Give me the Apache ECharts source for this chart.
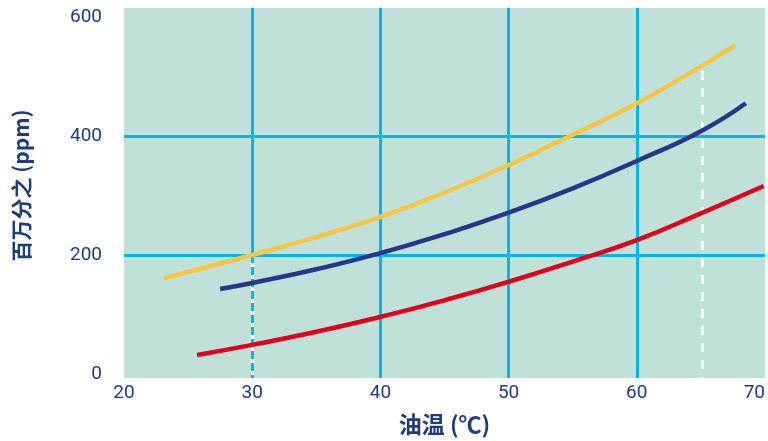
<!DOCTYPE html>
<html>
<head>
<meta charset="utf-8">
<script src="https://cdn.jsdelivr.net/npm/echarts@6/dist/echarts.min.js"></script>
<style>html,body{margin:0;padding:0;background:#fff;}#c{width:768px;height:441px;}</style>
</head>
<body>
<div id="c"></div>
<script>
// Data
const xTicks = [20, 30, 40, 50, 60, 70];
const yTicks = [0, 200, 400, 600];
const yellowX = [23.1, 30, 35, 40, 45, 50, 55, 60, 65, 67.7];
const yellowY = [161, 200, 230, 264, 305, 351, 402, 455, 517, 553];
const navyX = [27.5, 30, 35, 40, 45, 50, 55, 60, 65, 68.5];
const navyY = [143, 153, 176, 203, 235, 271, 312, 358, 408, 455];
const redX = [25.7, 30, 35, 40, 45, 50, 55, 60, 65, 69.9];
const redY = [32, 49, 71, 96, 124, 155, 189, 225, 270, 316];
const hGrid = [200, 400];
const vGrid = [40, 50, 60];
const refX = 30, refY = 200;       // cyan line at 30, dashed below 200
const markX = 65.1, markTop = 509; // white dashed guide

const yMin = -6.7, yMax = 615;
const xMin = 20, xMax = 70;
const txt = '#1f3d7c';
const gridC = '#00b6ed';

const pair = (xs, ys) => xs.map((x, i) => [x, ys[i]]);

const gridLines = [];
hGrid.forEach(v => gridLines.push([{coord: [xMin, v]}, {coord: [xMax, v]}]));
vGrid.forEach(v => gridLines.push([{coord: [v, yMin]}, {coord: [v, yMax]}]));
gridLines.push([{coord: [refX, refY]}, {coord: [refX, yMax]}]);

const labelFont = 'Roboto, sans-serif';

const chart = echarts.init(document.getElementById('c'));
chart.setOption({
  animation: false,
  grid: {left: 124, right: 1, top: 8, bottom: 63, show: true, backgroundColor: '#c0e1da', borderWidth: 0},
  xAxis: {
    type: 'value', min: xMin, max: xMax, interval: 10,
    axisLine: {show: false}, axisTick: {show: false}, splitLine: {show: false},
    axisLabel: {color: txt, fontSize: 19, fontFamily: labelFont, margin: 6, alignMaxLabel: 'right'},
    name: '油温 (℃)', nameLocation: 'middle', nameGap: 35,
    nameTextStyle: {color: txt, fontSize: 23, fontWeight: 'bold', fontFamily: 'Noto Sans CJK SC, sans-serif'}
  },
  yAxis: {
    type: 'value', min: yMin, max: yMax,
    axisLine: {show: false}, axisTick: {show: false}, splitLine: {show: false},
    axisLabel: {customValues: yTicks, color: txt, fontSize: 19, fontFamily: labelFont, margin: 22},
    name: '百万分之 (ppm)', nameLocation: 'middle', nameGap: 92, nameRotate: 90,
    nameTextStyle: {color: txt, fontSize: 21, fontWeight: 'bold', fontFamily: 'Noto Sans CJK SC, sans-serif', padding: [0, 0, 0, 15]}
  },
  series: [
    {
      type: 'line', data: [], z: 1, silent: true,
      markLine: {
        silent: true, symbol: 'none', label: {show: false}, animation: false,
        lineStyle: {color: gridC, width: 3, type: 'solid'},
        emphasis: {disabled: true},
        data: gridLines
      }
    },
    {
      type: 'line', data: [], z: 1, silent: true,
      markLine: {
        silent: true, symbol: 'none', label: {show: false}, animation: false,
        emphasis: {disabled: true},
        data: [
          [{coord: [refX, yMin], lineStyle: {color: '#ffffff', width: 3, type: 'solid'}}, {coord: [refX, refY]}]
        ]
      }
    },
    {
      type: 'line', data: [], z: 2, silent: true,
      markLine: {
        silent: true, symbol: 'none', label: {show: false}, animation: false,
        emphasis: {disabled: true},
        data: [
          [{coord: [refX, refY], lineStyle: {color: gridC, width: 3, type: [8, 4]}}, {coord: [refX, yMin]}],
          [{coord: [markX, markTop], lineStyle: {color: '#ffffff', width: 3, type: [9, 8]}}, {coord: [markX, yMin]}]
        ]
      }
    },
    {type: 'line', data: pair(yellowX, yellowY), smooth: 0.5, showSymbol: false, z: 5,
     lineStyle: {color: '#f6c543', width: 4.5, cap: 'butt'}},
    {type: 'line', data: pair(navyX, navyY), smooth: 0.5, showSymbol: false, z: 5,
     lineStyle: {color: '#28358a', width: 4.5, cap: 'butt'}},
    {type: 'line', data: pair(redX, redY), smooth: 0.5, showSymbol: false, z: 5,
     lineStyle: {color: '#e0001b', width: 4.5, cap: 'butt'}}
  ]
});
</script>
</body>
</html>
